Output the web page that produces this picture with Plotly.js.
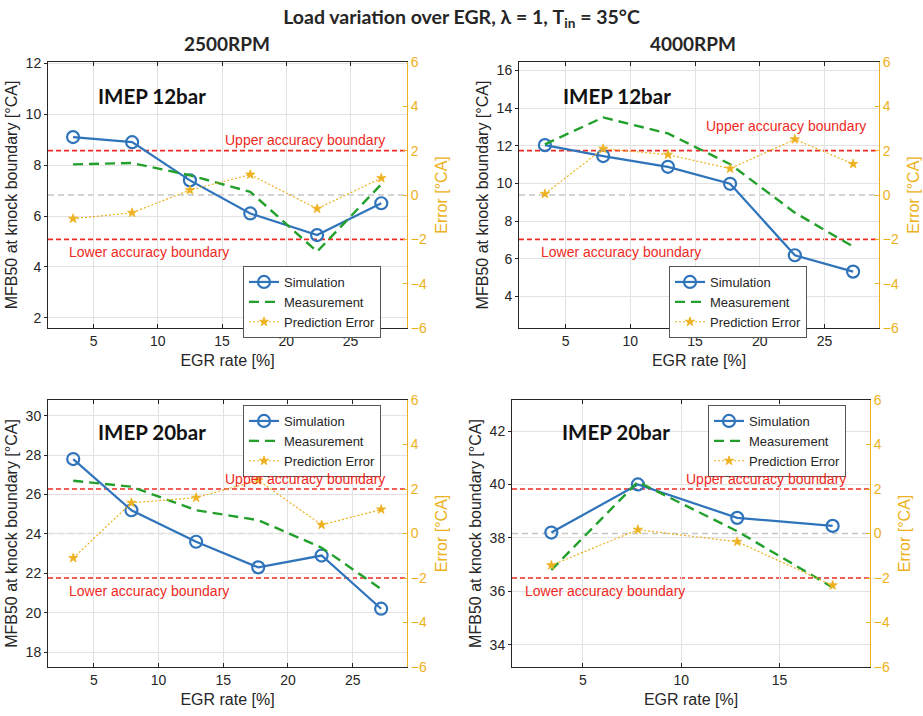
<!DOCTYPE html>
<html>
<head>
<meta charset="utf-8">
<script src="https://cdn.plot.ly/plotly-3.0.1.min.js"></script>
<style>
  html, body { margin: 0; padding: 0; background: #ffffff; }
  #chart { width: 923px; height: 716px; }
</style>
</head>
<body>
<div id="chart"></div>
<script>
// ---- Data: MFB50 at the knock boundary vs. EGR rate ----
// 2500 RPM, IMEP 12 bar
const egr2500_12  = [3.4, 8.0, 12.5, 17.2, 22.4, 27.4];
const sim2500_12  = [9.1, 8.9, 7.4, 6.1, 5.25, 6.5];
const meas2500_12 = [8.03, 8.08, 7.6, 6.95, 4.6, 7.25];
const err2500_12  = [-1.07, -0.8, 0.22, 0.92, -0.62, 0.76];

// 4000 RPM, IMEP 12 bar
const egr4000_12  = [3.4, 7.9, 12.9, 17.7, 22.7, 27.2];
const sim4000_12  = [12.03, 11.45, 10.88, 9.98, 6.19, 5.32];
const meas4000_12 = [12.07, 13.5, 12.65, 11.02, 8.45, 6.65];
const err4000_12  = [0.05, 2.09, 1.82, 1.19, 2.51, 1.4];

// 2500 RPM, IMEP 20 bar
const egr2500_20  = [3.4, 7.9, 12.9, 17.7, 22.6, 27.2];
const sim2500_20  = [27.8, 25.2, 23.6, 22.3, 22.9, 20.2];
const meas2500_20 = [26.7, 26.4, 25.2, 24.7, 23.3, 21.2];
const err2500_20  = [-1.1, 1.38, 1.61, 2.39, 0.39, 1.08];

// 4000 RPM, IMEP 20 bar
const egr4000_20  = [3.4, 7.8, 12.85, 17.7];
const sim4000_20  = [38.2, 40.0, 38.75, 38.45];
const meas4000_20 = [36.8, 40.1, 38.25, 36.15];
const err4000_20  = [-1.43, 0.17, -0.37, -2.33];

// Accuracy band of the prediction error [°CA]
const accuracyBound = 2;

const seriesNames = ['Simulation', 'Measurement', 'Prediction Error'];
const speedLabels = ['2500RPM', '4000RPM'];
const loadLabels  = ['IMEP 12bar', 'IMEP 20bar'];
const upperLabel  = 'Upper accuracy boundary';
const lowerLabel  = 'Lower accuracy boundary';

// ---- Styling ----
const W = 923, H = 716;
const FONT = 'Liberation Sans, Arial, sans-serif';
const BOLD = 'Lato, Calibri, sans-serif';
const INK = '#262626';
const BLUE = '#2f74bb';
const GREEN = '#23a02c';
const YELLOW = '#EDB120';
const RED = '#ee2a24';
const GRID = '#e2e2e2';

const px = v => v / W;          // horizontal pixel -> paper
const py = v => 1 - v / H;      // vertical pixel -> paper

// Panel frames (pixels) and axis settings
const panels = [
  { egr: egr2500_12, sim: sim2500_12, meas: meas2500_12, err: err2500_12,
    box: [48, 407, 62, 328], xr: [1.45, 29.4], yr: [1.6, 12.05],
    label: loadLabels[0], labelPos: [96, 96],
    upper: { x: 387, y: 140 }, lower: { x: 67, y: 252 },
    legend: { right: 381, top: 266 } },
  { egr: egr4000_12, sim: sim4000_12, meas: meas4000_12, err: err4000_12,
    box: [519, 879, 62, 328], xr: [1.4, 29.2], yr: [2.33, 16.44],
    label: loadLabels[0], labelPos: [561, 96],
    upper: { x: 868, y: 126 }, lower: { x: 539, y: 252 },
    legend: { right: 807, top: 266 } },
  { egr: egr2500_20, sim: sim2500_20, meas: meas2500_20, err: err2500_20,
    box: [48, 407, 400, 667], xr: [1.45, 29.2], yr: [17.24, 30.8],
    label: loadLabels[1], labelPos: [96, 432],
    upper: { x: 387, y: 479 }, lower: { x: 67, y: 591 },
    legend: { right: 381, top: 405 } },
  { egr: egr4000_20, sim: sim4000_20, meas: meas4000_20, err: err4000_20,
    box: [512, 870, 400, 667], xr: [1.4, 19.6], yr: [33.17, 43.16],
    label: loadLabels[1], labelPos: [560, 432],
    upper: { x: 848, y: 479 }, lower: { x: 523, y: 591 },
    legend: { right: 846, top: 405 } }
];

const traces = [];
const layout = {
  width: W, height: H,
  margin: { l: 0, r: 0, t: 0, b: 0, autoexpand: false },
  paper_bgcolor: '#ffffff', plot_bgcolor: '#ffffff',
  font: { family: FONT, size: 13, color: INK },
  title: {
    text: 'Load variation over EGR, λ = 1, T<sub>in</sub> = 35°C',
    x: 0.5, xanchor: 'center', xref: 'paper',
    y: 1 - 17 / H, yanchor: 'middle', yref: 'container',
    font: { family: BOLD, size: 19.5, color: INK, weight: 'bold' }
  },
  shapes: [],
  annotations: []
};

// Column headings
[[227, speedLabels[0]], [693, speedLabels[1]]].forEach(([cx, txt]) => {
  layout.annotations.push({
    text: '<b>' + txt + '</b>', xref: 'paper', yref: 'paper',
    x: px(cx), y: py(44), xanchor: 'center', yanchor: 'middle', showarrow: false,
    font: { family: BOLD, size: 19, color: INK }
  });
});

panels.forEach((p, i) => {
  const n = i + 1;
  const xId = n === 1 ? 'x' : 'x' + n;
  const yLeft = 2 * n - 1, yRight = 2 * n;
  const yLId = yLeft === 1 ? 'y' : 'y' + yLeft;
  const yRId = 'y' + yRight;
  const legId = n === 1 ? 'legend' : 'legend' + n;
  const [x0, x1, top, bottom] = p.box;

  layout[n === 1 ? 'xaxis' : 'xaxis' + n] = {
    domain: [px(x0), px(x1)], range: p.xr, anchor: yLId,
    tick0: 0, dtick: 5, ticks: 'inside', ticklen: 4, tickcolor: INK,
    showline: true, linecolor: INK, linewidth: 1, mirror: 'ticks',
    showgrid: true, gridcolor: GRID, gridwidth: 1, zeroline: false,
    tickfont: { family: FONT, size: 14, color: INK },
    title: { text: 'EGR rate [%]', font: { family: FONT, size: 16, color: INK }, standoff: 7 }
  };
  layout[yLeft === 1 ? 'yaxis' : 'yaxis' + yLeft] = {
    domain: [py(bottom), py(top)], range: p.yr, anchor: xId,
    dtick: 2, ticks: 'outside', ticklen: 3, tickcolor: INK,
    showline: true, linecolor: INK, linewidth: 1,
    showgrid: true, gridcolor: GRID, gridwidth: 1, zeroline: false,
    tickfont: { family: FONT, size: 14, color: INK },
    title: { text: 'MFB50 at knock boundary [°CA]', font: { family: FONT, size: 16, color: INK }, standoff: 4 }
  };
  layout['yaxis' + yRight] = {
    overlaying: yLId, side: 'right', anchor: xId, range: [-6, 6],
    dtick: 2, ticks: 'inside', ticklen: 4, tickcolor: YELLOW,
    showline: true, linecolor: YELLOW, linewidth: 1,
    showgrid: false, zeroline: false,
    tickfont: { family: FONT, size: 14, color: YELLOW },
    title: { text: 'Error [°CA]', font: { family: FONT, size: 16, color: YELLOW }, standoff: 9 }
  };
  layout[legId] = {
    x: px(p.legend.right), xanchor: 'right', xref: 'paper',
    y: py(p.legend.top), yanchor: 'top', yref: 'paper',
    bgcolor: '#ffffff', bordercolor: '#555555', borderwidth: 1,
    font: { family: FONT, size: 13, color: INK },
    tracegroupgap: 0, itemwidth: 30
  };

  traces.push({
    x: p.egr, y: p.sim, xaxis: xId, yaxis: yLId, legend: legId,
    name: seriesNames[0], type: 'scatter', mode: 'lines+markers',
    line: { color: BLUE, width: 2.2 },
    marker: { symbol: 'circle-open', size: 12, color: BLUE, line: { width: 2.2, color: BLUE } }
  });
  traces.push({
    x: p.egr, y: p.meas, xaxis: xId, yaxis: yLId, legend: legId,
    name: seriesNames[1], type: 'scatter', mode: 'lines',
    line: { color: GREEN, width: 2.4, dash: '10px,6px' }
  });
  traces.push({
    x: p.egr, y: p.err, xaxis: xId, yaxis: yRId, legend: legId,
    name: seriesNames[2], type: 'scatter', mode: 'lines+markers',
    line: { color: YELLOW, width: 1.2, dash: '2px,2px' },
    marker: { symbol: 'star', size: 7, color: YELLOW, line: { width: 0.8, color: YELLOW } }
  });

  // Accuracy band and zero-error reference on the error axis
  [[accuracyBound, RED, '5px,3px'], [0, '#c6c6c6', '6px,4px'], [-accuracyBound, RED, '5px,3px']]
    .forEach(([v, c, d]) => {
      layout.shapes.push({
        type: 'line', xref: xId + ' domain', yref: yRId,
        x0: 0, x1: 1, y0: v, y1: v, layer: 'below',
        line: { color: c, width: 1.6, dash: d }
      });
    });

  layout.annotations.push({
    text: upperLabel, xref: 'paper', yref: 'paper',
    x: px(p.upper.x), y: py(p.upper.y), xanchor: 'right', yanchor: 'middle',
    showarrow: false, font: { family: FONT, size: 14, color: RED }
  });
  layout.annotations.push({
    text: lowerLabel, xref: 'paper', yref: 'paper',
    x: px(p.lower.x), y: py(p.lower.y), xanchor: 'left', yanchor: 'middle',
    showarrow: false, font: { family: FONT, size: 14, color: RED }
  });
  layout.annotations.push({
    text: '<b>' + p.label + '</b>', xref: 'paper', yref: 'paper',
    x: px(p.labelPos[0]), y: py(p.labelPos[1]), xanchor: 'left', yanchor: 'middle',
    showarrow: false, font: { family: BOLD, size: 20.5, color: '#111111' }
  });
});

Plotly.newPlot('chart', traces, layout, { displayModeBar: false, staticPlot: true });
</script>
</body>
</html>
